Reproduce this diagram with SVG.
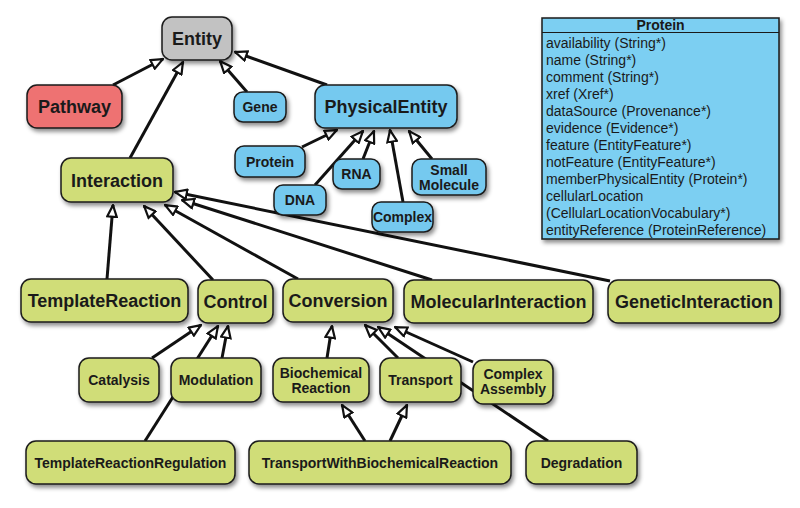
<svg xmlns="http://www.w3.org/2000/svg" width="800" height="508" viewBox="0 0 800 508">
<defs>
<filter id="sh" x="-20%" y="-20%" width="140%" height="150%">
<feDropShadow dx="2" dy="3" stdDeviation="2" flood-color="#000" flood-opacity="0.45"/>
</filter>
<marker id="tri" viewBox="0 0 14 12" refX="13" refY="6" markerWidth="14" markerHeight="12" markerUnits="userSpaceOnUse" orient="auto">
<path d="M1.2,1.2 L12.8,6 L1.2,10.8 Z" fill="#fff" stroke="#111" stroke-width="2.2" stroke-linejoin="miter"/>
</marker>
<style>
.n rect{stroke:#1a1a1a;stroke-width:1.5;filter:url(#sh)}
.g rect{fill:#d0dd78}
.b rect{fill:#74c9ef}
.r rect{fill:#ee7272}
.e rect{fill:#c2c2c2}
text{font-family:"Liberation Sans",Arial,Helvetica,sans-serif;fill:#1a1a1a}
.n text{font-weight:bold;text-anchor:middle}
.L{font-size:18px}
.S{font-size:14px}
.c line{stroke:#111;stroke-width:3;marker-end:url(#tri)}
.t text{font-size:14px}
</style>
</defs>
<rect width="800" height="508" fill="#fff"/>
<g id="connectors" class="c">
<line x1="113" y1="85" x2="163" y2="59"/>
<line x1="130" y1="158" x2="183" y2="62"/>
<line x1="247" y1="92" x2="220" y2="61"/>
<line x1="327" y1="85" x2="235" y2="52"/>
<line x1="302" y1="147" x2="337" y2="130"/>
<line x1="315" y1="185" x2="363" y2="131"/>
<line x1="363" y1="159" x2="374" y2="131"/>
<line x1="403" y1="202" x2="390" y2="130"/>
<line x1="432" y1="159" x2="409" y2="131"/>
<line x1="107" y1="279" x2="113" y2="205"/>
<line x1="213" y1="280" x2="144" y2="206"/>
<line x1="298" y1="279" x2="165" y2="205"/>
<line x1="432" y1="280" x2="182" y2="200"/>
<line x1="610" y1="281" x2="175" y2="192"/>
<line x1="152" y1="358" x2="201" y2="325"/>
<line x1="145" y1="441" x2="218" y2="326"/>
<line x1="222" y1="358" x2="228" y2="326"/>
<line x1="327" y1="358" x2="332" y2="326"/>
<line x1="398" y1="358" x2="365" y2="325"/>
<line x1="548" y1="441" x2="378" y2="327"/>
<line x1="473" y1="362" x2="395" y2="327"/>
<line x1="365" y1="441" x2="342" y2="405"/>
<line x1="390" y1="441" x2="407" y2="405"/>
</g>
<g id="entity" class="n e"><rect x="162" y="17" width="70" height="43" rx="10"/><text class="L" x="197" y="45">Entity</text></g>
<g id="pathway" class="n r"><rect x="27" y="85" width="95" height="43" rx="10"/><text class="L" x="74.5" y="113">Pathway</text></g>
<g id="gene" class="n b"><rect x="234" y="92" width="52" height="30" rx="9"/><text class="S" x="260" y="112">Gene</text></g>
<g id="physicalentity" class="n b"><rect x="315" y="85" width="142" height="43" rx="10"/><text class="L" x="386" y="113">PhysicalEntity</text></g>
<g id="protein-node" class="n b"><rect x="235" y="146" width="70" height="31" rx="9"/><text class="S" x="270" y="166.5">Protein</text></g>
<g id="rna" class="n b"><rect x="333" y="159" width="47" height="30" rx="9"/><text class="S" x="356.5" y="179">RNA</text></g>
<g id="dna" class="n b"><rect x="274" y="185" width="52" height="30" rx="9"/><text class="S" x="300" y="205">DNA</text></g>
<g id="smallmolecule" class="n b"><rect x="412" y="159" width="74" height="36" rx="9"/><text class="S" x="449" y="175">Small</text><text class="S" x="449" y="190">Molecule</text></g>
<g id="complex" class="n b"><rect x="372" y="202" width="61" height="30" rx="9"/><text class="S" x="402.5" y="222">Complex</text></g>
<g id="interaction" class="n g"><rect x="61" y="158" width="112" height="44" rx="10"/><text class="L" x="117" y="186.5">Interaction</text></g>
<g id="templatereaction" class="n g"><rect x="21" y="279" width="167" height="43" rx="10"/><text class="L" x="104.5" y="307">TemplateReaction</text></g>
<g id="control" class="n g"><rect x="198" y="280" width="75" height="43" rx="10"/><text class="L" x="235.5" y="308">Control</text></g>
<g id="conversion" class="n g"><rect x="283" y="279" width="110" height="43" rx="10"/><text class="L" x="338" y="307">Conversion</text></g>
<g id="molecularinteraction" class="n g"><rect x="404" y="280" width="189" height="43" rx="10"/><text class="L" x="498.5" y="308">MolecularInteraction</text></g>
<g id="geneticinteraction" class="n g"><rect x="608" y="280" width="172" height="43" rx="10"/><text class="L" x="694" y="308">GeneticInteraction</text></g>
<g id="catalysis" class="n g"><rect x="79" y="358" width="80" height="44" rx="10"/><text class="S" x="119" y="385">Catalysis</text></g>
<g id="modulation" class="n g"><rect x="171" y="358" width="90" height="44" rx="10"/><text class="S" x="216" y="385">Modulation</text></g>
<g id="biochemicalreaction" class="n g"><rect x="273" y="358" width="96" height="44" rx="10"/><text class="S" x="321" y="378">Biochemical</text><text class="S" x="321" y="393">Reaction</text></g>
<g id="transport" class="n g"><rect x="380" y="358" width="81" height="44" rx="10"/><text class="S" x="420.5" y="385">Transport</text></g>
<g id="complexassembly" class="n g"><rect x="473" y="360" width="80" height="44" rx="10"/><text class="S" x="513" y="379">Complex</text><text class="S" x="513" y="394">Assembly</text></g>
<g id="templatereactionregulation" class="n g"><rect x="26" y="441" width="209" height="43" rx="10"/><text class="S" x="130.5" y="467.5">TemplateReactionRegulation</text></g>
<g id="transportwithbiochemicalreaction" class="n g"><rect x="249" y="441" width="262" height="43" rx="10"/><text class="S" x="380" y="467.5">TransportWithBiochemicalReaction</text></g>
<g id="degradation" class="n g"><rect x="526" y="441" width="111" height="43" rx="10"/><text class="S" x="581.5" y="467.5">Degradation</text></g>
<g id="protein-class" class="t">
<rect x="542" y="18" width="237" height="221" fill="#7ccff2" stroke="#1a1a1a" stroke-width="1.5" filter="url(#sh)"/>
<line x1="542" y1="32.5" x2="779" y2="32.5" stroke="#1a1a1a" stroke-width="1.2"/>
<text x="660.5" y="30" font-weight="bold" text-anchor="middle">Protein</text>
<text x="546" y="48">availability (String*)</text>
<text x="546" y="65">name (String*)</text>
<text x="546" y="82">comment (String*)</text>
<text x="546" y="99">xref (Xref*)</text>
<text x="546" y="116">dataSource (Provenance*)</text>
<text x="546" y="133">evidence (Evidence*)</text>
<text x="546" y="150">feature (EntityFeature*)</text>
<text x="546" y="167">notFeature (EntityFeature*)</text>
<text x="546" y="184">memberPhysicalEntity (Protein*)</text>
<text x="546" y="201">cellularLocation</text>
<text x="546" y="218">(CellularLocationVocabulary*)</text>
<text x="546" y="235">entityReference (ProteinReference)</text>
</g>
</svg>
